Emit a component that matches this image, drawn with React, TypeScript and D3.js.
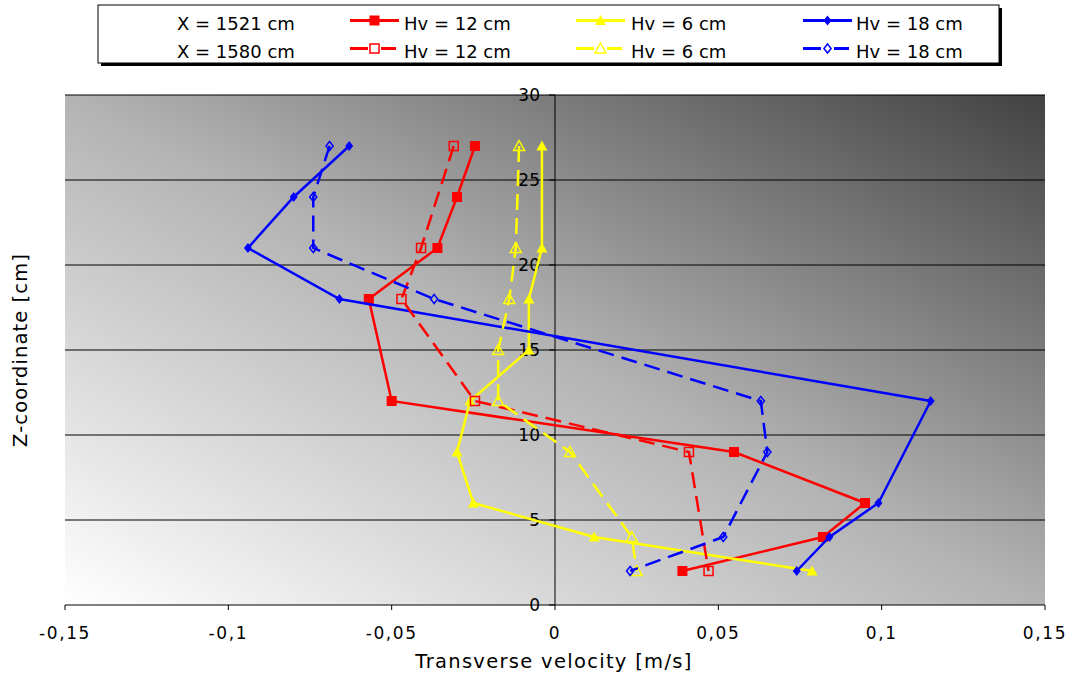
import React from "react";
import * as d3 from "d3";

const xTicks = [-0.15, -0.1, -0.05, 0, 0.05, 0.1, 0.15];
const xTickLabels = ["-0,15", "-0,1", "-0,05", "0", "0,05", "0,1", "0,15"];
const yTicks = [0, 5, 10, 15, 20, 25, 30];
const yTickLabels = ["0", "5", "10", "15", "20", "25", "30"];

const hv12_1521_v = [-0.0245, -0.03, -0.036, -0.057, -0.05, 0.0548, 0.0949, 0.082, 0.039];
const hv12_1521_z = [27, 24, 21, 18, 12, 9, 6, 4, 2];
const hv6_1521_v = [-0.004, -0.004, -0.008, -0.008, -0.026, -0.03, -0.025, 0.012, 0.0787];
const hv6_1521_z = [27, 21, 18, 15, 12, 9, 6, 4, 2];
const hv18_1521_v = [-0.063, -0.08, -0.094, -0.066, 0.115, 0.099, 0.084, 0.074];
const hv18_1521_z = [27, 24, 21, 18, 12, 6, 4, 2];
const hv12_1580_v = [-0.031, -0.041, -0.047, -0.0245, 0.041, 0.047];
const hv12_1580_z = [27, 21, 18, 12, 9, 2];
const hv6_1580_v = [-0.011, -0.012, -0.014, -0.0174, -0.0174, 0.0046, 0.0235, 0.025];
const hv6_1580_z = [27, 21, 18, 15, 12, 9, 4, 2];
const hv18_1580_v = [-0.069, -0.074, -0.074, -0.037, 0.063, 0.065, 0.0515, 0.023];
const hv18_1580_z = [27, 24, 21, 18, 12, 9, 4, 2];

const legendRow1 = ["X = 1521 cm", "Hv = 12 cm", "Hv = 6 cm", "Hv = 18 cm"];
const legendRow2 = ["X = 1580 cm", "Hv = 12 cm", "Hv = 6 cm", "Hv = 18 cm"];

type Series = { v: number[]; z: number[]; color: string; marker: "square" | "triangle" | "diamond"; filled: boolean; dashed: boolean };

const series: Series[] = [
  { v: hv12_1521_v, z: hv12_1521_z, color: "#FF0000", marker: "square", filled: true, dashed: false },
  { v: hv6_1521_v, z: hv6_1521_z, color: "#FFFF00", marker: "triangle", filled: true, dashed: false },
  { v: hv18_1521_v, z: hv18_1521_z, color: "#0000FF", marker: "diamond", filled: true, dashed: false },
  { v: hv12_1580_v, z: hv12_1580_z, color: "#FF0000", marker: "square", filled: false, dashed: true },
  { v: hv6_1580_v, z: hv6_1580_z, color: "#FFFF00", marker: "triangle", filled: false, dashed: true },
  { v: hv18_1580_v, z: hv18_1580_z, color: "#0000FF", marker: "diamond", filled: false, dashed: true },
];

const FONT = "DejaVu Sans, Verdana, sans-serif";
const DASH = "16,8";

function Marker({ x, y, s }: { x: number; y: number; s: Series }) {
  const fill = s.filled ? s.color : "none";
  const sw = s.filled ? 0 : 1.5;
  if (s.marker === "square") {
    const h = s.filled ? 5 : 4.5;
    return <rect x={x - h} y={y - h} width={2 * h} height={2 * h} fill={fill} stroke={s.color} strokeWidth={sw} />;
  }
  if (s.marker === "triangle") {
    const h = 5.5;
    return <path d={`M${x},${y - h}L${x + h},${y + h * 0.8}L${x - h},${y + h * 0.8}Z`} fill={fill} stroke={s.color} strokeWidth={sw} />;
  }
  const h = s.filled ? 5 : 4.5;
  return <path d={`M${x},${y - h}L${x + h * 0.8},${y}L${x},${y + h}L${x - h * 0.8},${y}Z`} fill={fill} stroke={s.color} strokeWidth={sw} />;
}

export default function App() {
  const W = 1072, H = 677;
  const left = 65, right = 1045, top = 95, bottom = 605;
  const x = d3.scaleLinear().domain([-0.15, 0.15]).range([left, right]);
  const y = d3.scaleLinear().domain([0, 30]).range([bottom, top]);
  const line = d3.line<[number, number]>().x(d => x(d[0])).y(d => y(d[1]));

  const legendCols = [{ sx: 350, tx: 404 }, { sx: 576, tx: 631 }, { sx: 803, tx: 856 }];
  const legendSeriesRows = [[series[0], series[1], series[2]], [series[3], series[4], series[5]]];
  const legendRowsText = [legendRow1, legendRow2];
  const rowLineY = [20.5, 48.5];
  const rowTextY = [30, 57.7];

  return (
    <svg width={W} height={H} style={{ position: "absolute", left: 0, top: 0, background: "#fff" }}>
      <defs>
        <linearGradient id="bg" x1="0" y1="1" x2="1" y2="0">
          <stop offset="0" stopColor="#ffffff" />
          <stop offset="0.5" stopColor="#b3b3b3" />
          <stop offset="1" stopColor="#424242" />
        </linearGradient>
      </defs>
      <rect x={left} y={top} width={right - left} height={bottom - top} fill="url(#bg)" />
      {yTicks.filter(t => t > 0).map(t => (
        <line key={t} x1={left} x2={right} y1={y(t)} y2={y(t)} stroke="#000" strokeWidth={1} />
      ))}
      {/* x axis */}
      <line x1={left} x2={right} y1={bottom} y2={bottom} stroke="#000" strokeWidth={1} />
      {xTicks.map((t, i) => (
        <g key={t}>
          <line x1={x(t)} x2={x(t)} y1={bottom} y2={bottom + 5} stroke="#000" />
          <text x={x(t)} y={bottom + 34} textAnchor="middle" fontFamily={FONT} fontSize={17} letterSpacing={1.6}>{xTickLabels[i]}</text>
        </g>
      ))}
      {/* y axis at zero */}
      <line x1={x(0)} x2={x(0)} y1={top} y2={bottom} stroke="#000" strokeWidth={1} />
      {yTicks.map((t, i) => (
        <g key={t}>
          <line x1={x(0) - 6} x2={x(0)} y1={y(t)} y2={y(t)} stroke="#000" />
          <text x={x(0) - 15} y={y(t) + 6} textAnchor="end" fontFamily={FONT} fontSize={17}>{yTickLabels[i]}</text>
        </g>
      ))}
      {series.map((s, i) => (
        <g key={i}>
          <path d={line(s.v.map((v, j) => [v, s.z[j]] as [number, number])) || ""} fill="none" stroke={s.color} strokeWidth={2.5} strokeDasharray={s.dashed ? DASH : undefined} />
          {s.v.map((v, j) => <Marker key={j} x={x(v)} y={y(s.z[j])} s={s} />)}
        </g>
      ))}
      <text x={554} y={668} textAnchor="middle" fontFamily={FONT} fontSize={19.5} letterSpacing={1.3}>Transverse velocity [m/s]</text>
      <text transform="translate(27,350) rotate(-90)" textAnchor="middle" fontFamily={FONT} fontSize={19.5} letterSpacing={1.1}>Z-coordinate [cm]</text>
      {/* legend */}
      <rect x={101} y={8} width={901} height={58} fill="#000" />
      <rect x={98} y={5} width={901} height={58} fill="#fff" stroke="#000" strokeWidth={1} />
      {rowLineY.map((ry, r) => (
        <g key={r}>
          <text x={177} y={rowTextY[r]} fontFamily={FONT} fontSize={18}>{legendRowsText[r][0]}</text>
          {legendCols.map((c, k) => {
            const s = legendSeriesRows[r][k];
            return (
              <g key={k}>
                <line x1={c.sx} x2={c.sx + 49} y1={ry} y2={ry} stroke={s.color} strokeWidth={3} strokeDasharray={s.dashed ? "20,6" : undefined} />
                {s.dashed && <rect x={c.sx + 18} y={ry - 3} width={13} height={6} fill="#fff" />}
                <Marker x={c.sx + 24.5} y={ry} s={s} />
                <text x={c.tx} y={rowTextY[r]} fontFamily={FONT} fontSize={18}>{legendRowsText[r][k + 1]}</text>
              </g>
            );
          })}
        </g>
      ))}
    </svg>
  );
}
